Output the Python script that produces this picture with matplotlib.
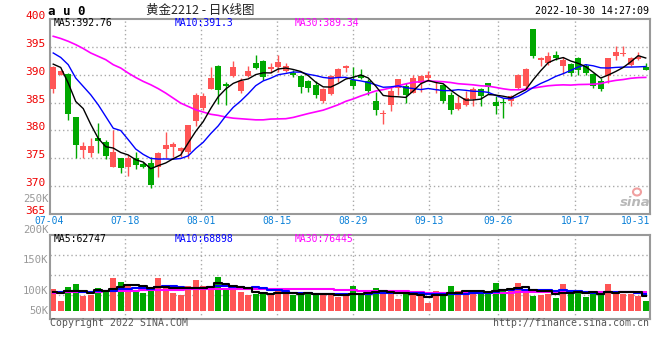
import numpy as np
import pandas as pd
import matplotlib
matplotlib.use("Agg")
import matplotlib.pyplot as plt
from matplotlib.patches import Ellipse
from matplotlib.transforms import blended_transform_factory as blend

plt.rcParams['font.family'] = ['DejaVu Sans Mono']

# daily bars of au0, 2022-07-04 .. 2022-10-31
opens = [387.4, 390.0, 390.1, 382.4, 376.5, 375.9, 378.6, 377.9, 373.5, 375.0,
         373.5, 375.0, 374.0, 374.1, 373.5, 376.7, 377.0, 376.3, 376.2, 381.7,
         384.1, 387.5, 391.6, 388.3, 389.8, 387.1, 389.8, 392.1, 392.5, 391.0,
         391.3, 390.7, 390.3, 389.7, 388.8, 388.1, 385.3, 386.6, 389.4, 391.2,
         389.1, 389.9, 388.9, 385.2, 383.0, 384.6, 387.6, 388.0, 386.7, 388.6,
         389.4, 387.2, 388.2, 386.3, 383.9, 384.6, 385.7, 387.5, 388.5, 385.1,
         385.1, 385.2, 387.6, 387.9, 398.2, 392.7, 392.1, 393.5, 391.6, 391.9,
         393.0, 391.6, 390.1, 388.9, 389.7, 393.4, 393.7, 391.8, 392.9, 391.3]
closes = [391.3, 390.7, 383.0, 377.4, 377.2, 377.2, 378.1, 375.5, 376.2, 373.2,
          375.0, 373.8, 373.4, 370.2, 376.0, 377.4, 377.6, 376.8, 381.0, 386.4,
          386.1, 389.4, 387.3, 388.0, 391.4, 388.8, 390.7, 391.2, 389.6, 391.3,
          392.3, 391.6, 389.9, 387.8, 387.6, 386.4, 387.4, 389.7, 391.0, 391.6,
          388.0, 389.5, 387.0, 383.7, 383.2, 387.1, 389.2, 386.4, 389.5, 389.7,
          390.0, 387.4, 385.3, 383.7, 384.9, 385.9, 387.5, 386.1, 387.8, 384.4,
          384.9, 386.1, 390.0, 391.1, 393.4, 393.0, 393.3, 393.0, 392.7, 390.3,
          390.9, 390.3, 388.0, 387.5, 393.0, 394.1, 393.9, 393.0, 393.1, 390.9]
highs = [391.5, 390.9, 390.3, 382.4, 378.0, 378.6, 381.3, 378.3, 380.1, 375.0,
         375.6, 376.2, 374.4, 375.3, 376.2, 379.8, 378.0, 377.1, 381.0, 386.7,
         386.7, 391.4, 391.8, 388.7, 392.5, 389.4, 391.6, 393.6, 392.7, 392.1,
         393.6, 392.1, 390.9, 389.9, 389.1, 388.8, 387.6, 390.0, 391.2, 391.8,
         391.3, 391.0, 389.2, 386.9, 383.6, 387.8, 389.2, 388.5, 390.0, 390.0,
         390.6, 388.7, 388.4, 386.9, 386.1, 387.1, 387.8, 387.6, 388.6, 386.1,
         385.9, 386.3, 390.2, 391.2, 398.2, 393.1, 394.1, 394.3, 393.1, 392.1,
         393.1, 391.9, 390.3, 389.5, 393.0, 395.1, 395.1, 393.1, 394.0, 392.1]
lows = [386.7, 389.9, 381.8, 375.0, 375.0, 375.2, 375.9, 374.9, 373.5, 372.3,
        371.8, 373.1, 373.2, 369.6, 371.6, 375.0, 375.2, 375.2, 375.0, 380.8,
        383.7, 387.4, 384.7, 384.6, 389.6, 386.7, 389.6, 391.0, 389.1, 390.3,
        390.4, 390.4, 389.6, 386.8, 386.9, 385.9, 384.9, 386.4, 388.7, 390.4,
        387.5, 389.2, 386.3, 382.8, 381.1, 383.5, 386.4, 384.9, 386.7, 386.9,
        388.9, 386.7, 384.9, 382.9, 383.7, 384.3, 384.4, 384.4, 386.6, 382.9,
        382.3, 384.3, 387.5, 387.5, 393.0, 391.5, 391.8, 392.7, 390.1, 389.7,
        390.0, 389.9, 387.7, 387.1, 388.5, 392.7, 393.3, 391.5, 392.7, 390.9]
# volume in K, on the scale of the volume panel's labels
volumes = [103.3, 83.6, 106.6, 111.5, 91.8, 93.4, 104.9, 101.6, 121.3, 114.8,
           109.8, 100.0, 96.7, 104.9, 121.3, 108.2, 96.7, 93.4, 108.2, 118.0,
           108.2, 106.6, 123.0, 104.9, 101.6, 98.4, 93.4, 95.1, 98.4, 93.4,
           100.0, 95.1, 93.4, 96.7, 98.4, 95.1, 93.4, 93.4, 90.2, 91.8,
           108.2, 95.1, 95.1, 104.9, 100.0, 96.7, 86.9, 95.1, 95.1, 95.1,
           80.3, 100.0, 96.7, 108.2, 100.0, 96.7, 95.1, 98.4, 98.4, 113.1,
           101.6, 101.6, 113.1, 103.3, 91.8, 93.4, 95.1, 88.5, 111.5, 98.4,
           96.7, 90.2, 95.1, 95.1, 111.5, 95.1, 95.1, 95.1, 91.8, 83.6]

# moving averages on the first days depend on earlier data
ma5_head = [391.9, 391.3, 388.5, 385.2]
ma10_head = [393.9, 393.1, 391.8, 389.4, 387.9, 386.4, 384.6, 382.5, 380.4]
ma30_head = [396.9, 396.5, 396.0, 395.4, 394.7, 393.9, 393.3, 392.7, 391.8, 391.2,
             390.3, 389.5, 388.8, 388.2, 387.5, 386.7, 385.8, 384.9, 384.3, 383.7,
             383.3, 382.9, 382.7, 382.4, 382.2, 382.1, 382.0, 381.9, 381.9]
vma5_head = [98.4, 97.2, 99.5, 99.5]
vma10_head = [98.4, 98.9, 99.5, 99.5, 99.0, 99.0, 99.2, 99.5, 100.0]
vma30_head = [97.2, 97.4, 97.6, 97.9, 98.2, 98.5, 98.9, 99.3, 99.7, 100.1,
              100.5, 100.8, 101.1, 101.3, 101.6, 101.9, 102.1, 102.3, 102.5, 102.7,
              102.8, 102.9, 103.0, 103.0, 103.1, 103.2, 103.2, 103.3, 103.5]

date_labels = ["07-04", "07-18", "08-01", "08-15", "08-29", "09-13", "09-26", "10-17", "10-31"]
date_pos = [-0.5, 9.55, 19.65, 29.8, 39.95, 50.15, 59.35, 69.6, 79.57]
price_ticks = [365, 370, 375, 380, 385, 390, 395, 400]
vol_ticks = [250, 200, 150, 100]


def moving(values, n, head):
    s = pd.Series(values).rolling(n).mean()
    s.iloc[:len(head)] = head
    return s.to_numpy()


RED = '#ff5555'
GREEN = '#00a800'
GRID = dict(color='#aaaaaa', lw=1, ls=(0, (1, 2)), zorder=0)

o = np.array(opens); c = np.array(closes)
h = np.array(highs); l = np.array(lows)
v = np.array(volumes)
x = np.arange(len(c))
colors = np.where(c >= o, RED, GREEN)

W, H = 660, 360
fig = plt.figure(figsize=(6.6, 3.6), dpi=100)
fig.patch.set_facecolor('white')


def box(left, top, right, bottom):
    return [left / W, 1 - bottom / H, (right - left) / W, (bottom - top) / H]


def ftext(px, py, s, **kw):
    fig.text(px / W, 1 - py / H, s, va='center', **kw)


ax = fig.add_axes(box(50, 19, 650, 214))
axv = fig.add_axes(box(50, 235, 650, 319))

for a in (ax, axv):
    a.set_xlim(-0.43, 79.57)
    a.set_xticks([]); a.set_yticks([])
    for sp in a.spines.values():
        sp.set_color('#999999'); sp.set_linewidth(1.5)
    for gx in date_pos[1:-1]:
        a.axvline(gx, **GRID)

# price panel
ax.set_ylim(365, 400)
for p in price_ticks[1:-1]:
    ax.axhline(p, **GRID)
ax.vlines(x, l, h, colors=colors, lw=1, zorder=2)
ax.bar(x, np.maximum(np.abs(c - o), 0.18), bottom=np.minimum(o, c), width=0.8,
       color=colors, zorder=3)
ax.plot(x, moving(c, 30, ma30_head), color='#ff00ff', lw=1.2, zorder=4)
ax.plot(x, moving(c, 10, ma10_head), color='#0000ff', lw=1.0, zorder=4)
ax.plot(x, moving(c, 5, ma5_head), color='black', lw=1.0, zorder=4)

ty = blend(ax.transAxes, ax.transData)
for p in price_ticks:
    ax.text(-0.007, p + 0.55, str(p), transform=ty, ha='right', va='center',
            color='#ee0000', fontsize=8, clip_on=False)
tx = blend(ax.transData, ax.transAxes)
for lab, pos in zip(date_labels, date_pos):
    ha = 'right' if pos == date_pos[-1] else 'center'
    ax.text(pos, -0.037, lab, transform=tx, ha=ha, va='center',
            color='#0a80d8', fontsize=7, clip_on=False)

# volume panel
VBASE = 67.2
axv.set_ylim(54.1, 191.8)
for gy in [159.0, 126.2, 93.4]:
    axv.axhline(gy, **GRID)
axv.bar(x, v - VBASE, bottom=VBASE, width=0.8, color=colors, zorder=2)
axv.plot(x, moving(v, 30, vma30_head), color='#ff00ff', lw=1.5, drawstyle='steps-mid', zorder=3)
axv.plot(x, moving(v, 10, vma10_head), color='#0000ff', lw=1.5, drawstyle='steps-mid', zorder=3)
axv.plot(x, moving(v, 5, vma5_head), color='black', lw=1.5, drawstyle='steps-mid', zorder=3)
tyv = blend(axv.transAxes, axv.transData)
for t in vol_ticks:
    axv.text(-0.003, t, f"{t}K", transform=tyv, ha='right', va='center',
             color='#999999', fontsize=7.6, clip_on=False)
axv.text(-0.003, VBASE, "50K", transform=tyv, ha='right', va='center',
         color='#999999', fontsize=7.6, clip_on=False)

# header and legends
ftext(48, 11.5, "a u 0", fontsize=9, fontweight='bold', color='black')
ftext(200, 10.5, "黄金2212 - 日K线图", ha='center', fontsize=9, color='#222222',
      family=['Noto Sans CJK SC', 'DejaVu Sans'])
ftext(649, 11.5, "2022-10-30 14:27:09", ha='right', fontsize=7.2, color='black')
ftext(54, 23.5, "MA5:392.76", fontsize=7, color='black')
ftext(175, 23.5, "MA10:391.3", fontsize=7, color='#0000ff')
ftext(295, 23.5, "MA30:389.34", fontsize=7, color='#ff00ff')
ftext(54, 238.5, "MA5:62747", fontsize=7, color='black')
ftext(175, 238.5, "MA10:68898", fontsize=7, color='#0000ff')
ftext(295, 238.5, "MA30:76445", fontsize=7, color='#ff00ff')
ftext(50, 323.5, "Copyright 2022 SINA.COM", fontsize=7.1, color='#555555')
ftext(649, 323.5, "http://finance.sina.com.cn", ha='right', fontsize=7.1, color='#555555')

# sina watermark
fig.patches.append(Ellipse((637 / W, 1 - 192 / H), 8 / W, 7 / H, transform=fig.transFigure,
                           fill=False, ec='#f0a0a0', lw=1.5))
ftext(635, 203, "sina", ha='center', fontsize=9.5, fontweight='bold', style='italic',
      color='#b8b8b8', family=['DejaVu Sans'])

fig.savefig("out.png", dpi=100)
